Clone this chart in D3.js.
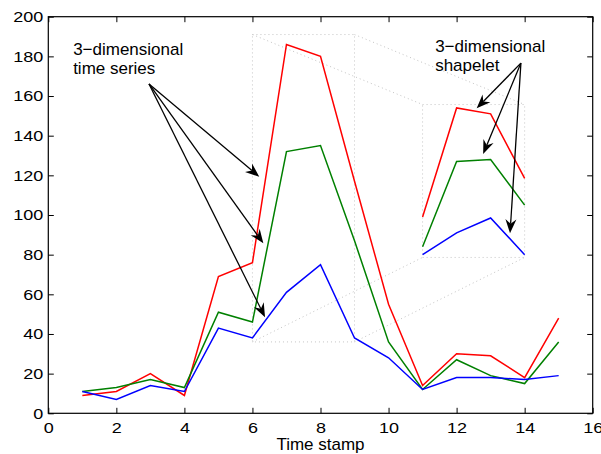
<!DOCTYPE html>
<html>
<head>
<meta charset="utf-8">
<script src="https://cdn.jsdelivr.net/npm/d3@7"></script>
<style>
  html, body { margin: 0; padding: 0; background: #fff; }
  svg { display: block; }
  text { font-family: "Liberation Sans", Arial, Helvetica, sans-serif; fill: #000; }
</style>
</head>
<body>
<svg id="chart" width="601" height="454"></svg>
<script>
// Time axis and the three channels of the series
const timeStamps = [1, 2, 3, 4, 5, 6, 7, 8, 9, 10, 11, 12, 13, 14, 15];
const redSeries   = [9, 11, 20, 9, 69, 76, 186, 180, 117, 55, 14, 30, 29, 18, 48];
const greenSeries = [11, 13, 17, 13, 51, 46, 132, 135, 87, 36, 12, 27, 19, 15, 36];
const blueSeries  = [11, 7, 14, 11, 43, 38, 61, 75, 38, 28, 12, 18, 18, 17, 19];

// Shapelet extracted from time stamps 6..9, shown lifted at 11..14
const shapeletStamps = [11, 12, 13, 14];
const shapeletRed   = [99, 154, 151, 118.5];
const shapeletGreen = [84, 127, 128, 105];
const shapeletBlue  = [80, 91, 98.5, 80];

// Tick values
const xTicks = [0, 2, 4, 6, 8, 10, 12, 14, 16];
const yTicks = [0, 20, 40, 60, 80, 100, 120, 140, 160, 180, 200];

// Source window and shapelet window (time range, value range)
const sourceWindow   = { t0: 6, t1: 9, v0: 36, v1: 191 };
const shapeletWindow = { t0: 11, t1: 14, v0: 78.6, v1: 155.7 };

// Annotation labels and arrows (data units)
const seriesLabel   = { t: 0.73, v: 180.7, lines: ["3\u2212dimensional", "time series"] };
const shapeletLabel = { t: 11.37, v: 182, lines: ["3\u2212dimensional", "shapelet"] };
const seriesArrowFrom = [2.96, 166.1];
const seriesArrowTo   = [[6.2, 119.3], [6.32, 85.7], [6.37, 48.4]];
const shapeletArrowFrom = [13.89, 176.6];
const shapeletArrowTo   = [[12.59, 153.8], [12.78, 130.8], [13.57, 90.8]];

const W = 601, H = 454;
const m = { l: 48.3, t: 16.7, r: 8.3, b: 40.7 };

const svg = d3.select("#chart");
const x = d3.scaleLinear().domain([0, 16]).range([m.l, W - m.r]);
const y = d3.scaleLinear().domain([0, 200]).range([H - m.b, m.t]);

const TICK = 5.5;
const STRETCH = 1.2;

// Axes: ticks point inward on all four sides
const gl = svg.append("g").attr("transform", `translate(${m.l},0)`)
  .call(d3.axisLeft(y).tickValues(yTicks).tickSizeInner(-TICK).tickSizeOuter(0).tickPadding(5));
gl.selectAll("text").attr("x", -5 / STRETCH).attr("transform", `scale(${STRETCH},1)`);

const gb = svg.append("g").attr("transform", `translate(0,${H - m.b})`)
  .call(d3.axisBottom(x).tickValues(xTicks).tickSizeInner(-TICK).tickSizeOuter(0).tickPadding(9));
gb.selectAll("text").attr("transform", `scale(${STRETCH},1)`);

svg.append("g").attr("transform", `translate(${W - m.r},0)`)
  .call(d3.axisRight(y).tickValues(yTicks).tickSizeInner(-TICK).tickSizeOuter(0).tickFormat(""));
svg.append("g").attr("transform", `translate(0,${m.t})`)
  .call(d3.axisTop(x).tickValues(xTicks).tickSizeInner(-TICK).tickSizeOuter(0).tickFormat(""));

svg.selectAll(".domain").remove();
svg.selectAll(".tick line").attr("stroke", "#000").attr("stroke-width", 1);
svg.selectAll(".tick text").attr("font-size", 15).attr("fill", "#000")
  .style("font-family", '"Liberation Sans", Arial, Helvetica, sans-serif');

// Dotted projection from source window to shapelet window
const dotted = svg.append("g").attr("fill", "none")
  .attr("stroke", "#c4c4c4").attr("stroke-width", 1).attr("stroke-dasharray", "1,3");
function corners(w) {
  return [[w.t0, w.v1], [w.t1, w.v1], [w.t1, w.v0], [w.t0, w.v0]];
}
[sourceWindow, shapeletWindow].forEach(w => {
  dotted.append("rect")
    .attr("x", x(w.t0)).attr("y", y(w.v1))
    .attr("width", x(w.t1) - x(w.t0)).attr("height", y(w.v0) - y(w.v1));
});
const cs = corners(sourceWindow), ct = corners(shapeletWindow);
cs.forEach((c, i) => {
  dotted.append("line")
    .attr("x1", x(c[0])).attr("y1", y(c[1]))
    .attr("x2", x(ct[i][0])).attr("y2", y(ct[i][1]));
});

// Series lines
const line = d3.line().x(d => x(d[0])).y(d => y(d[1]));
const drawSeries = (ts, vs, color) => {
  svg.append("path")
    .datum(ts.map((t, i) => [t, vs[i]]))
    .attr("fill", "none").attr("stroke", color)
    .attr("stroke-width", 1.5).attr("stroke-linejoin", "miter")
    .attr("d", line);
};
drawSeries(timeStamps, redSeries, "#ff0000");
drawSeries(timeStamps, greenSeries, "#008000");
drawSeries(timeStamps, blueSeries, "#0000ff");
drawSeries(shapeletStamps, shapeletRed, "#ff0000");
drawSeries(shapeletStamps, shapeletGreen, "#008000");
drawSeries(shapeletStamps, shapeletBlue, "#0000ff");

// Frame
svg.append("rect")
  .attr("x", m.l).attr("y", m.t)
  .attr("width", W - m.r - m.l).attr("height", H - m.b - m.t)
  .attr("fill", "none").attr("stroke", "#000").attr("stroke-width", 1.2);

// Arrows
const arrows = svg.append("g");
function arrow(from, to) {
  const x0 = x(from[0]), y0 = y(from[1]), x1 = x(to[0]), y1 = y(to[1]);
  const dx = x1 - x0, dy = y1 - y0, L = Math.hypot(dx, dy);
  const ux = dx / L, uy = dy / L, px = -uy, py = ux;
  const len = 14, hw = 5.5, notch = 9.5;
  const bx = x1 - ux * len, by = y1 - uy * len;
  arrows.append("line")
    .attr("x1", x0).attr("y1", y0)
    .attr("x2", x1 - ux * notch).attr("y2", y1 - uy * notch)
    .attr("stroke", "#000").attr("stroke-width", 1.3);
  arrows.append("path")
    .attr("d", `M${x1},${y1}L${bx + px * hw},${by + py * hw}L${x1 - ux * notch},${y1 - uy * notch}L${bx - px * hw},${by - py * hw}Z`)
    .attr("fill", "#000");
}
seriesArrowTo.forEach(t => arrow(seriesArrowFrom, t));
shapeletArrowTo.forEach(t => arrow(shapeletArrowFrom, t));

// Annotation labels
function label(spec) {
  const t = svg.append("text")
    .attr("x", x(spec.t)).attr("y", y(spec.v))
    .attr("font-size", 17);
  spec.lines.forEach((s, i) => {
    t.append("tspan").attr("x", x(spec.t)).attr("dy", i === 0 ? 0 : 19).text(s);
  });
}
label(seriesLabel);
label(shapeletLabel);

// Axis title
svg.append("text")
  .attr("x", x(8)).attr("y", 450)
  .attr("text-anchor", "middle").attr("font-size", 17)
  .text("Time stamp");
</script>
</body>
</html>
